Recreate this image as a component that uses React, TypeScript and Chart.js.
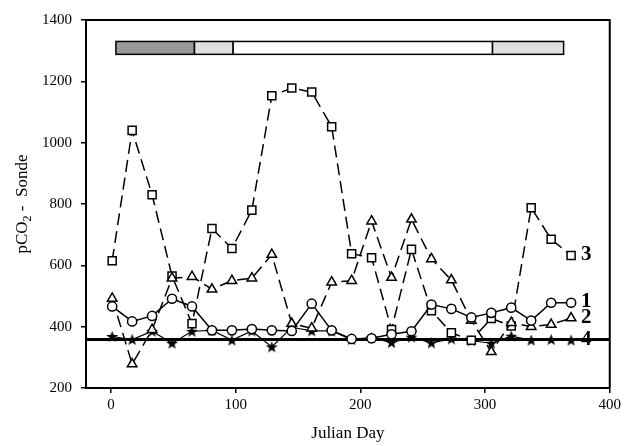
import { useEffect, useRef } from "react";
import { Chart, registerables } from "chart.js";

Chart.register(...registerables);

const DAYS = [1, 17, 33, 49, 65, 81, 97, 113, 129, 145, 161, 177, 193, 209, 225, 241, 257, 273, 289, 305, 321, 337, 353, 369];
const SERIES_1 = [466, 417, 435, 491, 466, 388, 388, 392, 388, 386, 475, 388, 360, 362, 375, 385, 472, 458, 430, 445, 462, 420, 478, 478];
const SERIES_2 = [492, 278, 390, 558, 563, 522, 550, 558, 635, 410, 395, 545, 550, 744, 560, 750, 621, 552, 420, 318, 413, 400, 407, 428];
const SERIES_3 = [615, 1040, 830, 565, 410, 720, 655, 780, 1153, 1178, 1165, 1052, 638, 625, 391, 652, 452, 380, 356, 427, 402, 788, 685, 632];
const SERIES_4 = [368, 358, 385, 346, 385, 388, 356, 386, 334, 398, 386, 386, 358, 364, 348, 366, 347, 360, 354, 346, 369, 356, 358, 356];
const SERIES_NAMES = ["1", "2", "3", "4"];
const ATMOSPHERE = 358;
const X_RANGE = [-20, 400];
const Y_RANGE = [200, 1400];
const X_TICKS = [0, 100, 200, 300, 400];
const Y_TICKS = [200, 400, 600, 800, 1000, 1200, 1400];
const PHASE_START = [4, 67, 98, 306];
const PHASE_END = [67, 98, 306, 363];
const PHASE_COLOR = ["#9a9a9a", "#dedfde", "#ffffff", "#dedfde"];
const PHASE_LOW = 1288;
const PHASE_HIGH = 1330;

const FONT = "'Liberation Serif', 'Times New Roman', serif";

function makeStar(): HTMLCanvasElement {
  const c = document.createElement("canvas");
  const s = 13;
  c.width = s;
  c.height = s;
  const g = c.getContext("2d")!;
  const cx = s / 2, cy = s / 2 + 0.5, ro = 6.3, ri = 2.6;
  g.beginPath();
  for (let i = 0; i < 10; i++) {
    const r = i % 2 === 0 ? ro : ri;
    const a = -Math.PI / 2 + (i * Math.PI) / 5;
    const px = cx + r * Math.cos(a);
    const py = cy + r * Math.sin(a);
    if (i === 0) g.moveTo(px, py);
    else g.lineTo(px, py);
  }
  g.closePath();
  g.fillStyle = "#000";
  g.fill();
  return c;
}

export default function App() {
  const ref = useRef<HTMLCanvasElement | null>(null);

  useEffect(() => {
    document.body.style.margin = "0";
    const canvas = ref.current;
    if (!canvas) return;
    const star = makeStar();
    const toPts = (vals: number[]) => DAYS.map((d, i) => ({ x: d, y: vals[i] }));

    const decor = {
      id: "decor",
      beforeDatasetsDraw(chart: any) {
        const { ctx, scales } = chart;
        const xs = scales.x, ys = scales.y;
        ctx.save();
        const yTop = ys.getPixelForValue(PHASE_HIGH);
        const yBot = ys.getPixelForValue(PHASE_LOW);
        for (let i = 0; i < PHASE_START.length; i++) {
          const x0 = xs.getPixelForValue(PHASE_START[i]);
          const x1 = xs.getPixelForValue(PHASE_END[i]);
          ctx.fillStyle = PHASE_COLOR[i];
          ctx.fillRect(x0, yTop, x1 - x0, yBot - yTop);
          ctx.strokeStyle = "#000";
          ctx.lineWidth = 1.5;
          ctx.strokeRect(x0, yTop, x1 - x0, yBot - yTop);
        }
        ctx.restore();
      },
      afterDraw(chart: any) {
        const { ctx, chartArea, scales } = chart;
        const xs = scales.x, ys = scales.y;
        ctx.save();
        // frame
        ctx.strokeStyle = "#000";
        ctx.lineWidth = 2;
        ctx.beginPath();
        ctx.moveTo(chartArea.left, chartArea.top);
        ctx.lineTo(chartArea.right, chartArea.top);
        ctx.lineTo(chartArea.right, chartArea.bottom);
        ctx.stroke();
        // series labels at last points
        const series = [SERIES_1, SERIES_2, SERIES_3, SERIES_4];
        ctx.fillStyle = "#000";
        ctx.font = `bold 21px ${FONT}`;
        ctx.textAlign = "left";
        ctx.textBaseline = "middle";
        series.forEach((vals, i) => {
          const lx = xs.getPixelForValue(DAYS[DAYS.length - 1]) + 10;
          const ly = ys.getPixelForValue(vals[vals.length - 1]) - 1;
          ctx.fillText(SERIES_NAMES[i], lx, ly);
        });
        // x title
        ctx.font = `17px ${FONT}`;
        ctx.textAlign = "center";
        ctx.textBaseline = "middle";
        ctx.fillText("Julian Day", (chartArea.left + chartArea.right) / 2, 434);
        // y title with subscript
        const big = `17px ${FONT}`;
        const small = `12px ${FONT}`;
        const p1 = "pCO", p2 = "2", p3 = " -  Sonde";
        ctx.font = big;
        const w1 = ctx.measureText(p1).width;
        const w3 = ctx.measureText(p3).width;
        ctx.font = small;
        const w2 = ctx.measureText(p2).width;
        const total = w1 + w2 + w3;
        ctx.translate(21, (chartArea.top + chartArea.bottom) / 2);
        ctx.rotate(-Math.PI / 2);
        ctx.textAlign = "left";
        ctx.textBaseline = "alphabetic";
        let x = -total / 2;
        ctx.font = big;
        ctx.fillText(p1, x, 6);
        x += w1;
        ctx.font = small;
        ctx.fillText(p2, x, 10);
        x += w2;
        ctx.font = big;
        ctx.fillText(p3, x, 6);
        ctx.restore();
      },
    };

    const chart = new Chart(canvas, {
      type: "line",
      data: {
        datasets: [
          {
            label: "atm",
            data: [{ x: X_RANGE[0], y: ATMOSPHERE }, { x: X_RANGE[1], y: ATMOSPHERE }],
            borderColor: "#000",
            borderWidth: 3,
            pointRadius: 0,
            order: 10,
          },
          {
            label: SERIES_NAMES[3],
            data: toPts(SERIES_4),
            borderColor: "#000",
            borderWidth: 1.2,
            pointStyle: star as any,
            pointRadius: 6,
            order: 5,
          },
          {
            label: SERIES_NAMES[2],
            data: toPts(SERIES_3),
            borderColor: "#000",
            borderWidth: 1.5,
            borderDash: [12, 6],
            pointStyle: "rect",
            pointRadius: 5.7,
            pointBackgroundColor: "#fff",
            pointBorderColor: "#000",
            pointBorderWidth: 1.5,
            order: 4,
          },
          {
            label: SERIES_NAMES[1],
            data: toPts(SERIES_2),
            borderColor: "#000",
            borderWidth: 1.5,
            borderDash: [12, 6],
            pointStyle: "triangle",
            pointRadius: 5.5,
            pointBackgroundColor: "#fff",
            pointBorderColor: "#000",
            pointBorderWidth: 1.5,
            order: 3,
          },
          {
            label: SERIES_NAMES[0],
            data: toPts(SERIES_1),
            borderColor: "#000",
            borderWidth: 1.5,
            pointStyle: "circle",
            pointRadius: 4.6,
            pointBackgroundColor: "#fff",
            pointBorderColor: "#000",
            pointBorderWidth: 1.5,
            order: 2,
          },
        ],
      },
      options: {
        animation: false,
        responsive: false,
        layout: { padding: { top: 20, right: 13, left: 0, bottom: 0 } },
        plugins: { legend: { display: false }, tooltip: { enabled: false } },
        scales: {
          x: {
            type: "linear",
            min: X_RANGE[0],
            max: X_RANGE[1],
            afterBuildTicks: (s: any) => {
              s.ticks = X_TICKS.map((v) => ({ value: v }));
            },
            afterFit: (s: any) => {
              s.height = 58;
            },
            grid: { display: true, drawOnChartArea: false, drawTicks: true, tickLength: 5, color: "#000", lineWidth: 1.5 },
            border: { display: true, color: "#000", width: 2 },
            ticks: { color: "#000", font: { family: FONT, size: 15 }, padding: 3, maxRotation: 0, callback: (v: any) => String(v) },
          },
          y: {
            type: "linear",
            min: Y_RANGE[0],
            max: Y_RANGE[1],
            afterBuildTicks: (s: any) => {
              s.ticks = Y_TICKS.map((v) => ({ value: v }));
            },
            afterFit: (s: any) => {
              s.width = 86;
            },
            grid: { display: true, drawOnChartArea: false, drawTicks: true, tickLength: 5, color: "#000", lineWidth: 1.5 },
            border: { display: true, color: "#000", width: 2 },
            ticks: { color: "#000", font: { family: FONT, size: 15 }, padding: 9, callback: (v: any) => String(v) },
          },
        },
      },
      plugins: [decor],
    });
    return () => chart.destroy();
  }, []);

  return (
    <div style={{ width: 624, height: 446 }}>
      <canvas ref={ref} width={624} height={446} style={{ display: "block" }} />
    </div>
  );
}
